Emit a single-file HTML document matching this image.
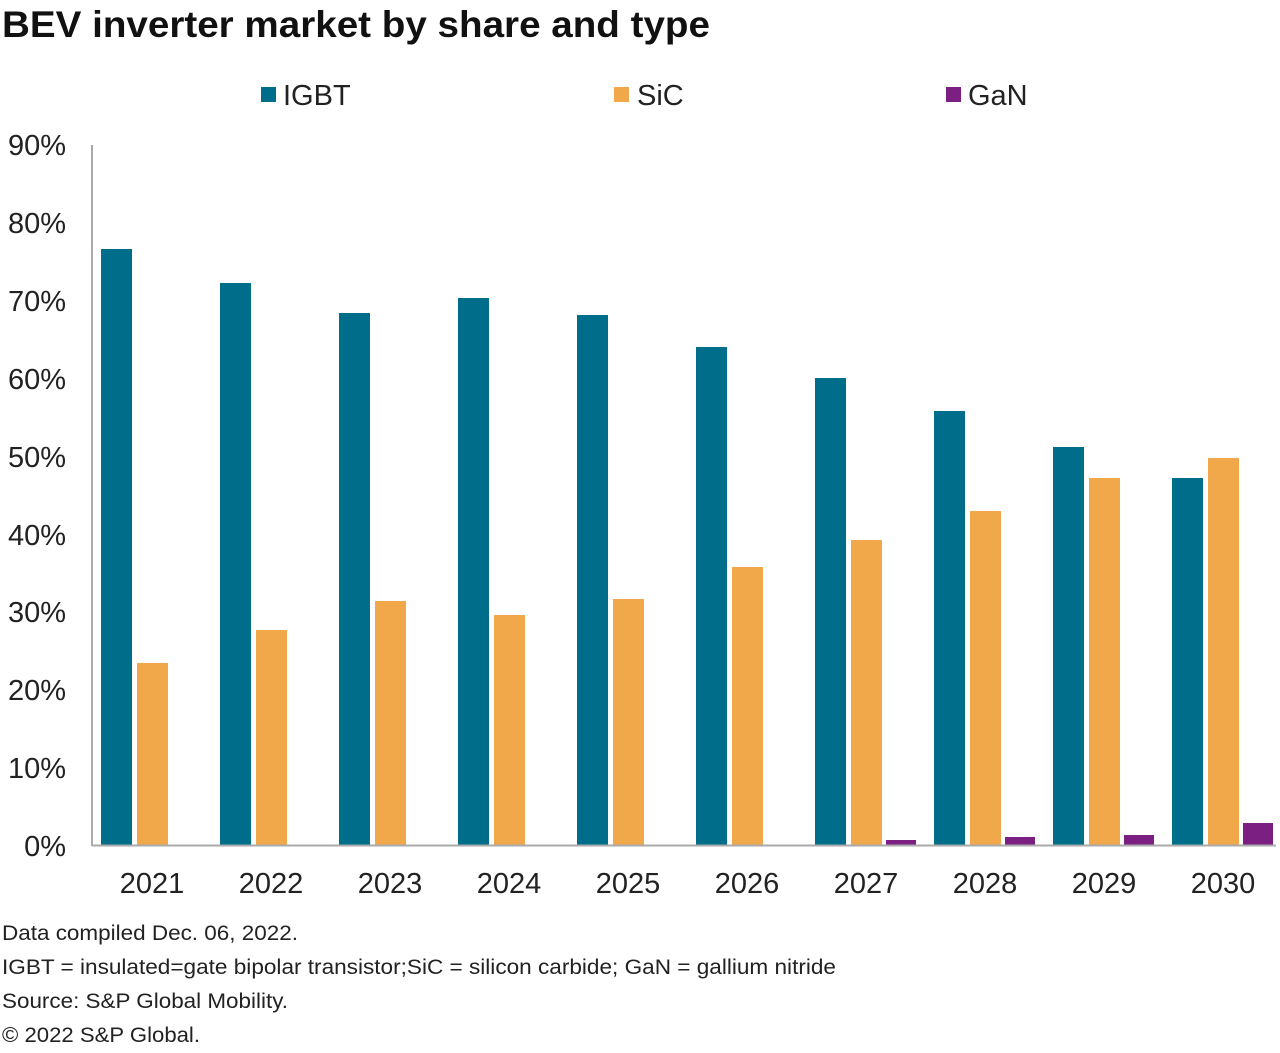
<!DOCTYPE html>
<html><head><meta charset="utf-8"><style>
body{margin:0;background:#fff;width:1280px;height:1048px;overflow:hidden;font-family:"Liberation Sans",Arial,sans-serif;}
</style></head><body>
<svg width="1280" height="1048" xmlns="http://www.w3.org/2000/svg" font-family="Liberation Sans, Arial, sans-serif">
<text x="2" y="37" font-size="37" font-weight="bold" fill="#111" textLength="708" lengthAdjust="spacingAndGlyphs">BEV inverter market by share and type</text>
<rect x="261" y="87" width="15" height="15" fill="#006d8a"/><text x="283" y="105" font-size="29" fill="#222">IGBT</text>
<rect x="614" y="87" width="15" height="15" fill="#f0a84a"/><text x="637" y="105" font-size="29" fill="#222">SiC</text>
<rect x="946" y="87" width="15" height="15" fill="#7b1f82"/><text x="968" y="105" font-size="29" fill="#222">GaN</text>
<g font-size="29" fill="#222" text-anchor="end">
<text x="66" y="155">90%</text><text x="66" y="233">80%</text><text x="66" y="311">70%</text><text x="66" y="389">60%</text><text x="66" y="467">50%</text><text x="66" y="545">40%</text><text x="66" y="622">30%</text><text x="66" y="700">20%</text><text x="66" y="778">10%</text><text x="66" y="856">0%</text>
</g>
<line x1="92" y1="145" x2="92" y2="846" stroke="#aaa" stroke-width="2"/>
<g fill="#006d8a">
<rect x="101" y="249" width="31" height="596"/>
<rect x="220" y="283" width="31" height="562"/>
<rect x="339" y="313" width="31" height="532"/>
<rect x="458" y="298" width="31" height="547"/>
<rect x="577" y="315" width="31" height="530"/>
<rect x="696" y="347" width="31" height="498"/>
<rect x="815" y="378" width="31" height="467"/>
<rect x="934" y="411" width="31" height="434"/>
<rect x="1053" y="447" width="31" height="398"/>
<rect x="1172" y="478" width="31" height="367"/>
</g>
<g fill="#f0a84a">
<rect x="137" y="663" width="31" height="182"/>
<rect x="256" y="630" width="31" height="215"/>
<rect x="375" y="601" width="31" height="244"/>
<rect x="494" y="615" width="31" height="230"/>
<rect x="613" y="599" width="31" height="246"/>
<rect x="732" y="567" width="31" height="278"/>
<rect x="851" y="540" width="31" height="305"/>
<rect x="970" y="511" width="31" height="334"/>
<rect x="1089" y="478" width="31" height="367"/>
<rect x="1208" y="458" width="31" height="387"/>
</g>
<g fill="#7b1f82">
<rect x="886" y="840" width="30" height="5"/>
<rect x="1005" y="837" width="30" height="8"/>
<rect x="1124" y="835" width="30" height="10"/>
<rect x="1243" y="823" width="30" height="22"/>
</g>
<line x1="92" y1="845.5" x2="1276" y2="845.5" stroke="#aaa" stroke-width="2"/>
<g font-size="29" fill="#222" text-anchor="middle">
<text x="152" y="893">2021</text><text x="271" y="893">2022</text><text x="390" y="893">2023</text><text x="509" y="893">2024</text><text x="628" y="893">2025</text><text x="747" y="893">2026</text><text x="866" y="893">2027</text><text x="985" y="893">2028</text><text x="1104" y="893">2029</text><text x="1223" y="893">2030</text>
</g>
<g font-size="21" fill="#222">
<text x="2" y="940" textLength="296" lengthAdjust="spacingAndGlyphs">Data compiled Dec. 06, 2022.</text>
<text x="2" y="974" textLength="834" lengthAdjust="spacingAndGlyphs">IGBT = insulated=gate bipolar transistor;SiC = silicon carbide; GaN = gallium nitride</text>
<text x="2" y="1008" textLength="286" lengthAdjust="spacingAndGlyphs">Source: S&amp;P Global Mobility.</text>
<text x="2" y="1042" textLength="198" lengthAdjust="spacingAndGlyphs">© 2022 S&amp;P Global.</text>
</g>
</svg>
</body></html>
